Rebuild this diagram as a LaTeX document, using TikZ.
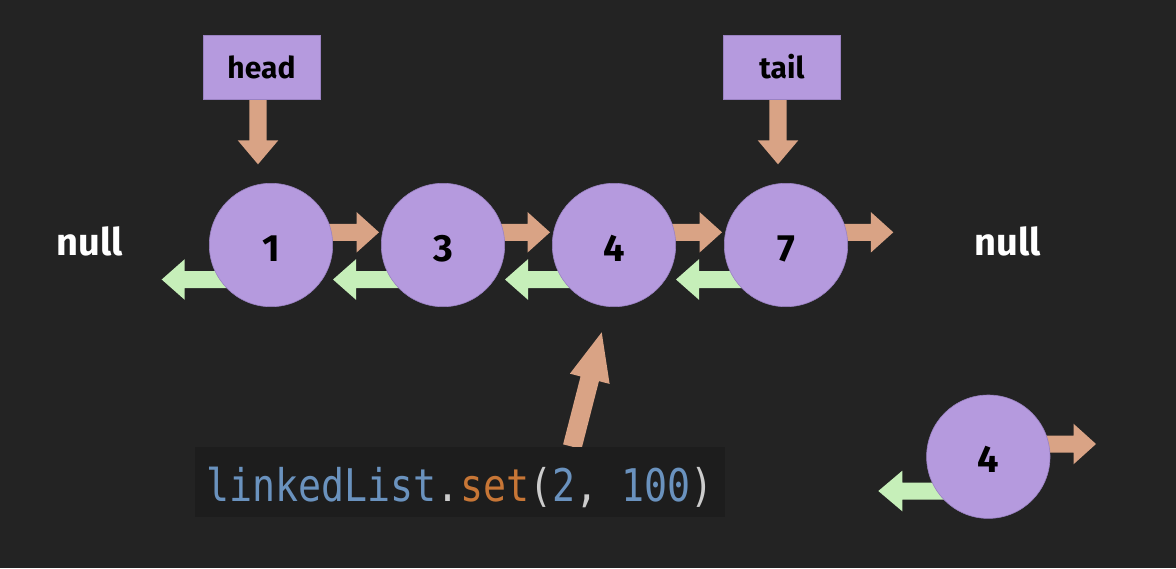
\documentclass[tikz,border=0pt]{standalone}
\usepackage{fontspec}
\setmainfont{Fira Sans}
\newfontfamily\codefont{DejaVu Sans Mono}[FakeStretch=0.85]
\usetikzlibrary{calc}
\pgfdeclarelayer{back}
\pgfsetlayers{back,main}
\definecolor{bgc}{HTML}{232323}
\definecolor{purp}{HTML}{B59ADE}
\definecolor{purpline}{HTML}{9A82C2}
\definecolor{oarrow}{HTML}{D9A385}
\definecolor{garrow}{HTML}{C6EFB9}
\definecolor{codebg}{HTML}{1D1D1D}
\definecolor{codeblue}{HTML}{6A92BE}
\definecolor{codeorange}{HTML}{C77636}
\definecolor{codegray}{HTML}{CCCCCC}
% #1 start, #2 tip, #3 half shaft, #4 half head, #5 head length, #6 colour
\newcommand\blockarrow[6]{%
  \coordinate (bab) at ($(#2)!#5!(#1)$);
  \fill[#6] ($(#1)!#3!90:(#2)$) -- ($(bab)!#3!-90:(#1)$) -- ($(bab)!#4!-90:(#1)$) -- (#2)
    -- ($(bab)!#4!90:(#1)$) -- ($(bab)!#3!90:(#1)$) -- ($(#1)!#3!-90:(#2)$) -- cycle;}
\begin{document}
\begin{tikzpicture}[x=1pt,y=-1pt,
  listnode/.style={circle,minimum size=123.4pt,inner sep=0pt,fill=purp,draw=purpline,line width=0.6pt,
    font=\bfseries\fontsize{38}{38}\selectfont,text=black,text height=32pt,text depth=0pt},
  ptrbox/.style={rectangle,minimum width=117pt,minimum height=64pt,inner sep=0pt,fill=purp,draw=purpline,line width=0.6pt,
    font=\bfseries\fontsize{30}{30}\selectfont,text=black},
  nulltext/.style={font=\bfseries\fontsize{38}{38}\selectfont,text=white,inner sep=0pt,anchor=base},
  fwd/.style={oarrow}, bwd/.style={garrow}]
\useasboundingbox (0,0) rectangle (1176,568);
\begin{pgfonlayer}{back}
  \fill[bgc] (0,0) rectangle (1176,568);
\end{pgfonlayer}

% list nodes
\node[listnode] (n1) at (271,245) {1};
\node[listnode] (n3) at (443,245) {3};
\node[listnode] (n4) at (614,245) {4};
\node[listnode] (n7) at (786,245) {7};
\node[listnode] (m4) at (988.3,456.7) {4};

% pointers
\node[ptrbox] (head) at (261.5,67) {head};
\node[ptrbox] (tail) at (782,67) {tail};

% null labels
\node[nulltext] (nullL) at (90,255) {null};
\node[nulltext] (nullR) at (1008,255) {null};

% code
\node[fill=codebg,inner xsep=0pt,inner ysep=0pt,text height=55pt,text depth=15.6pt,minimum width=529.4pt,anchor=base]
  (code) at (460,501.7)
  {\codefont\fontsize{45}{45}\selectfont\textcolor{codeblue}{linkedList}\textcolor{codegray}{.}\textcolor{codeorange}{set}\textcolor{codegray}{(}\textcolor{codeblue}{2}\textcolor{codegray}{, }\textcolor{codeblue}{100}\textcolor{codegray}{)}};

% free ends
\coordinate (nullLtip) at (161.7,279.5);
\coordinate (nullRtip) at (893.3,232.3);
\coordinate (m4ftip) at (1096,444);
\coordinate (m4btip) at (878.3,491);
\coordinate (ptrbase) at (572.3,446.7);
\coordinate (ptrtip) at (601.7,332.3);

\begin{pgfonlayer}{back}
  % forward links
  \blockarrow{$(n1.center)+(0,-12.7)$}{$(n3.center)+(-64,-12.7)$}{8.5pt}{20.3pt}{22.5pt}{fwd}
  \blockarrow{$(n3.center)+(0,-12.7)$}{$(n4.center)+(-64,-12.7)$}{8.5pt}{20.3pt}{22.5pt}{fwd}
  \blockarrow{$(n4.center)+(0,-12.7)$}{$(n7.center)+(-64,-12.7)$}{8.5pt}{20.3pt}{22.5pt}{fwd}
  \blockarrow{$(n7.center)+(0,-12.7)$}{nullRtip}{8.5pt}{20.3pt}{22.5pt}{fwd}
  % backward links
  \blockarrow{$(n1.center)+(0,34.5)$}{nullLtip}{8.5pt}{20.3pt}{23pt}{bwd}
  \blockarrow{$(n3.center)+(0,34.5)$}{$(n1.center)+(62,34.5)$}{8.5pt}{20.3pt}{23pt}{bwd}
  \blockarrow{$(n4.center)+(0,34.5)$}{$(n3.center)+(62,34.5)$}{8.5pt}{20.3pt}{23pt}{bwd}
  \blockarrow{$(n7.center)+(0,34.5)$}{$(n4.center)+(62,34.5)$}{8.5pt}{20.3pt}{23pt}{bwd}
  % detached node
  \blockarrow{$(m4.center)+(0,-12.7)$}{m4ftip}{8.5pt}{20.3pt}{22.5pt}{fwd}
  \blockarrow{$(m4.center)+(0,34.3)$}{m4btip}{8.5pt}{20.3pt}{24pt}{bwd}
  % head / tail
  \blockarrow{$(head.south)+(-3.5,0)$}{$(n1.north)+(-13,-18.7)$}{8.7pt}{20.3pt}{24pt}{fwd}
  \blockarrow{$(tail.south)+(-4,0)$}{$(n7.north)+(-8,-18.7)$}{8.7pt}{20.3pt}{24pt}{fwd}
  % set pointer
  \blockarrow{ptrbase}{ptrtip}{9.5pt}{20.5pt}{48pt}{fwd}
\end{pgfonlayer}
\end{tikzpicture}
\end{document}
